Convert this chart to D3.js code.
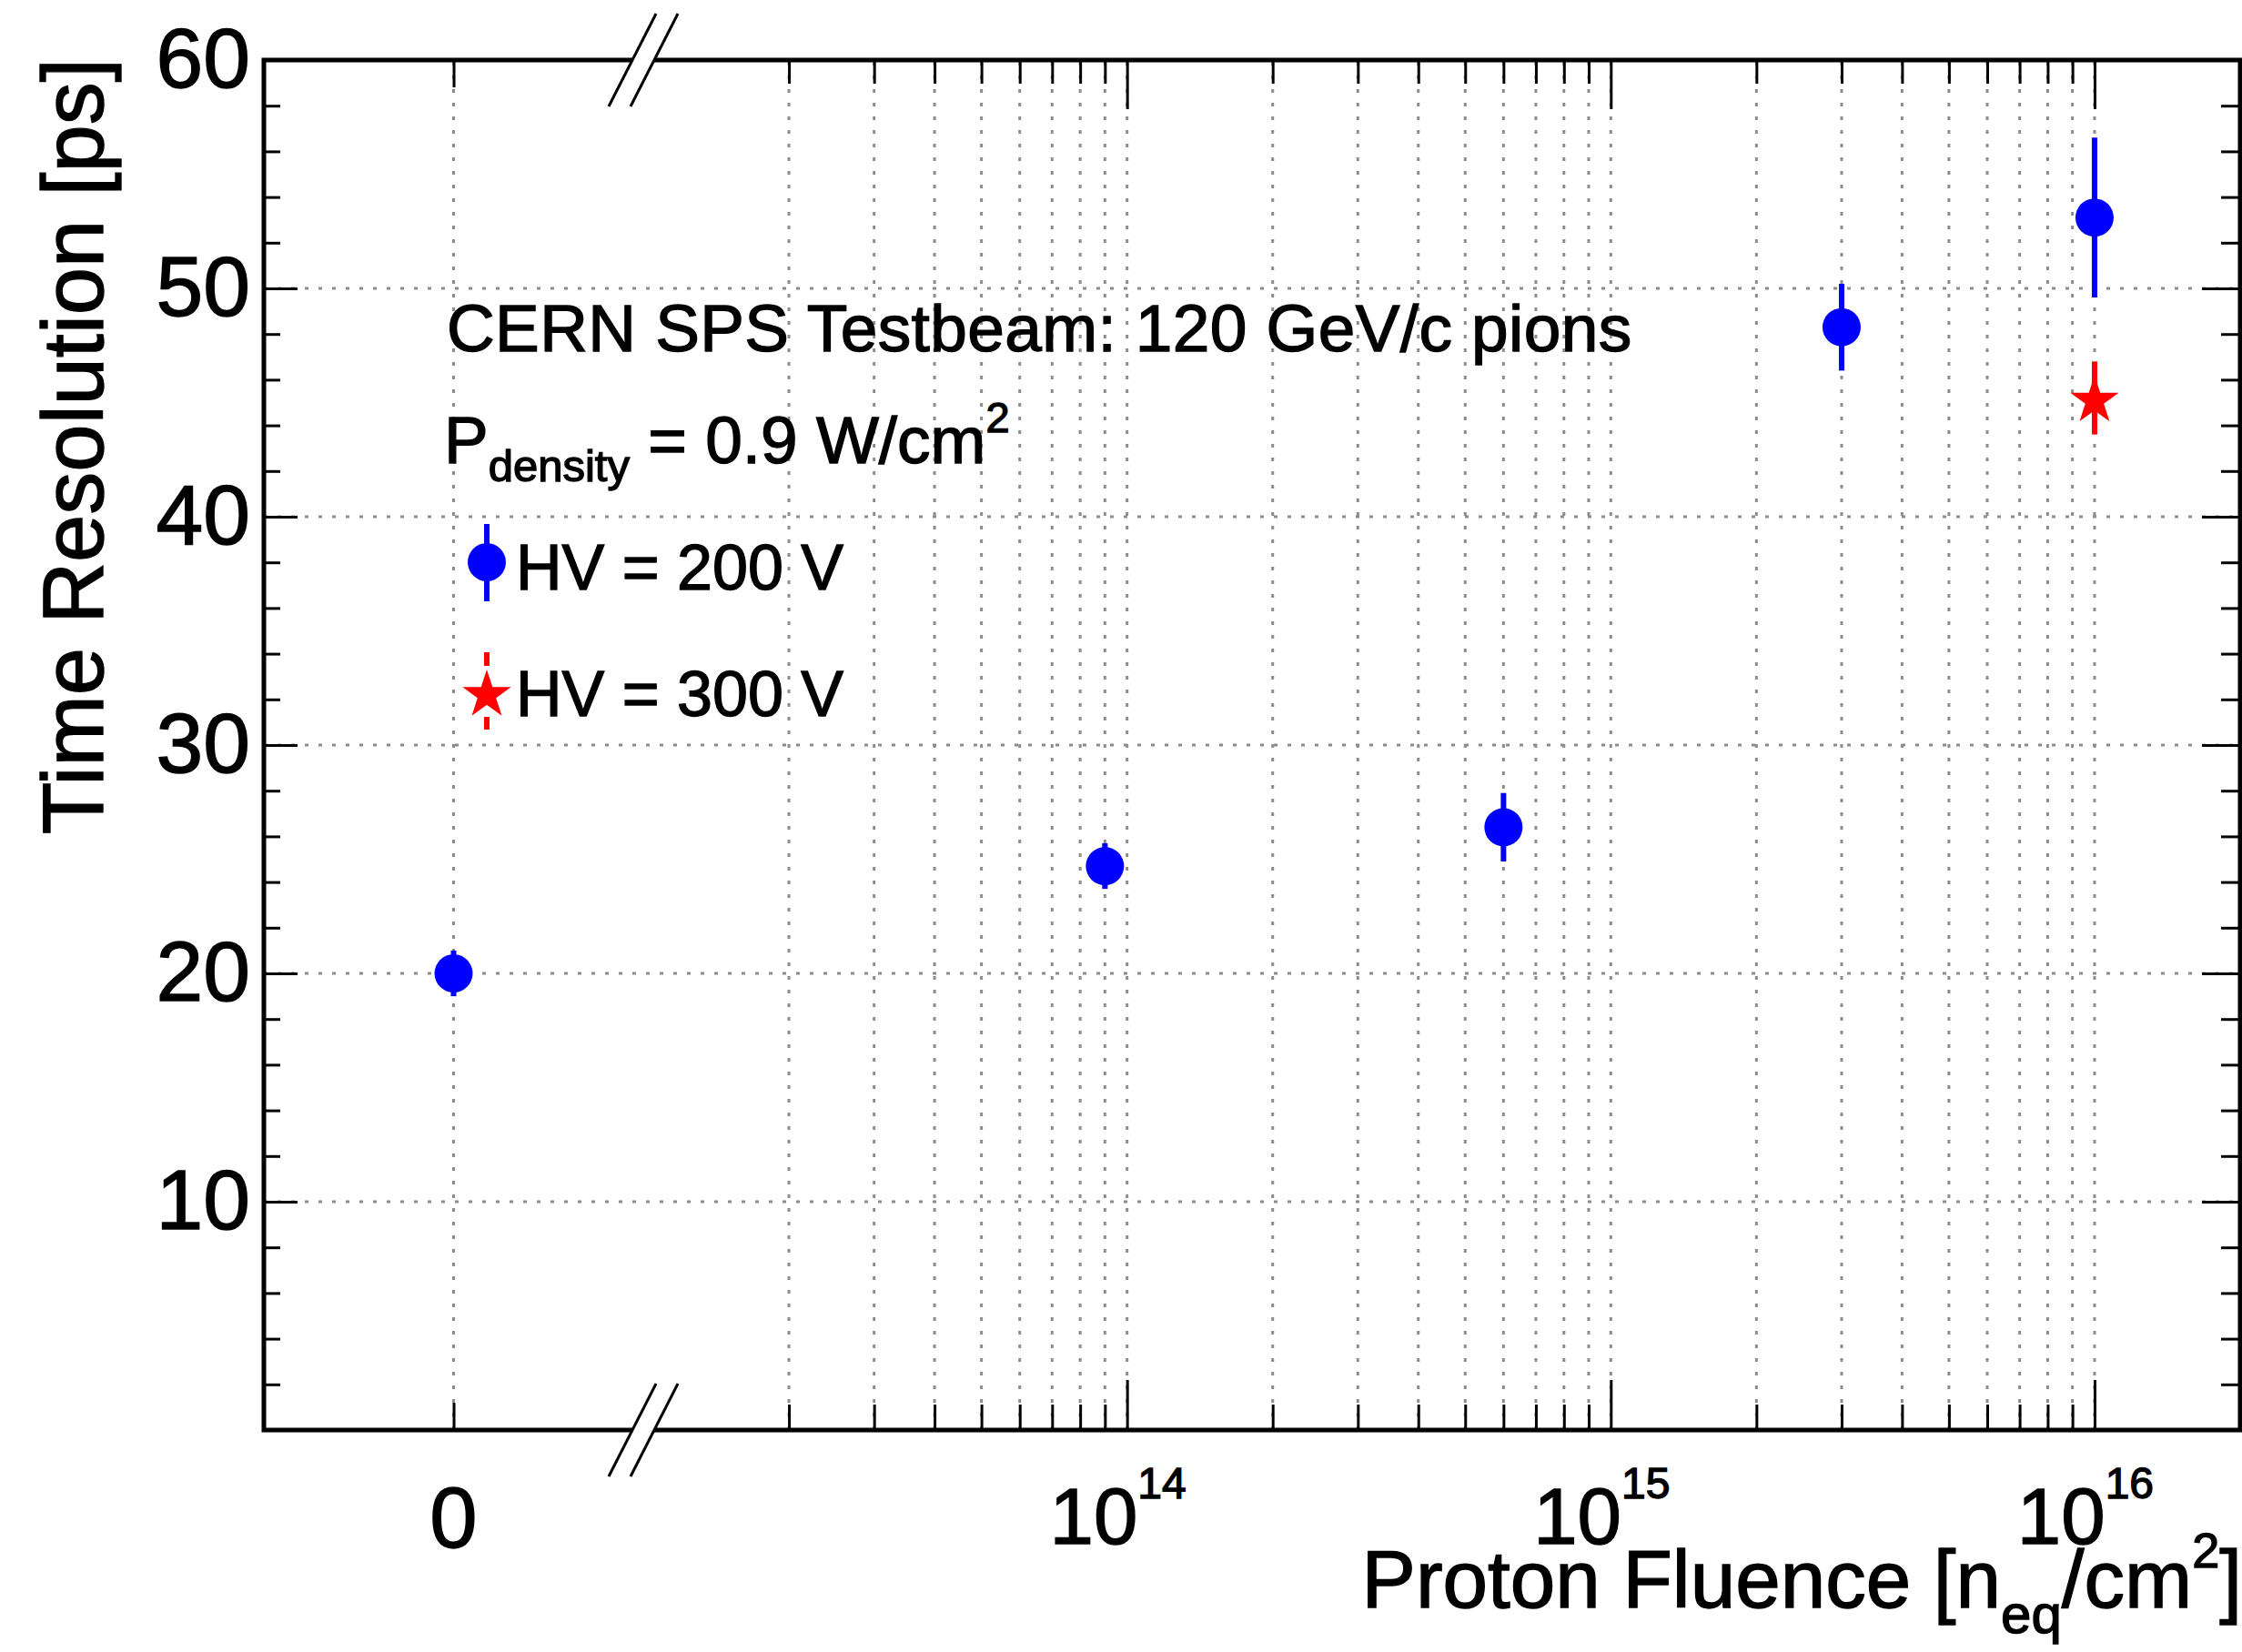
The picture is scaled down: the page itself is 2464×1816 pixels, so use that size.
<!DOCTYPE html>
<html>
<head>
<meta charset="utf-8">
<script src="https://cdn.jsdelivr.net/npm/d3@7/dist/d3.min.js"></script>
<style>
body { margin: 0; background: #fff; }
text { font-family: "Liberation Sans", Arial, Helvetica, sans-serif; fill: #000; stroke: #000; stroke-width: 1.4px; }
</style>
</head>
<body>
<script>
// values
let fluence200 = [0, 9e13, 6e14, 3e15, 1e16];
let res200 = [20.0, 24.7, 26.4, 48.3, 53.1];
let err200 = [1.0, 1.0, 1.5, 1.9, 3.5];
let fluence300 = [1e16];
let res300 = [45.2];
let err300 = [1.6];
let yTicks = [10, 20, 30, 40, 50, 60];
let xDecades = [1e14, 1e15, 1e16];
let xDecadeLabels = ["14", "15", "16"];

let width = 2464, height = 1816;
let frame = {left: 290, right: 2462, top: 66, bottom: 1572};
let breakX = 707;

// x axis: a small linear piece around 0, then a log piece after the break
let xZero = d3.scaleLinear().domain([-1, 1]).range([frame.left, breakX]);
let xLog = d3.scaleLog().domain([1e13, 2e16]).range([breakX, frame.right]);
function xScale(v) { return v <= 0 ? xZero(v) : xLog(v); }
let yScale = d3.scaleLinear().domain([0, 60]).range([frame.bottom, frame.top]);

let logTicks = xLog.ticks().filter(function(v) { return v > 1.5e13 && v <= 1.5e16; });
let logMajor = logTicks.filter(function(v) { return xDecades.indexOf(v) >= 0; });
let logMinor = logTicks.filter(function(v) { return xDecades.indexOf(v) < 0; });
let yMinor = d3.range(2, 60, 2).filter(function(v) { return v % 10 != 0; });

let svg = d3.select("body").append("svg")
	.attr("width", width)
	.attr("height", height);

// dotted grid
let grid = svg.append("g");
grid.selectAll(".gx")
		.data([0].concat(logTicks))
	.enter().append("line")
		.attr("x1", function(d) { return xScale(d); })
		.attr("x2", function(d) { return xScale(d); })
		.attr("y1", frame.bottom)
		.attr("y2", frame.top);
grid.selectAll(".gy")
		.data(yTicks.filter(function(v) { return v < 60; }))
	.enter().append("line")
		.attr("x1", frame.left)
		.attr("x2", frame.right)
		.attr("y1", function(d) { return yScale(d); })
		.attr("y2", function(d) { return yScale(d); });
grid.selectAll("line")
	.attr("stroke", "#8c8c8c")
	.attr("stroke-width", 3)
	.attr("stroke-dasharray", "4 11");

// tick marks, all pointing inwards
function ticks(g) {
	g.select(".domain").remove();
	g.selectAll("line").attr("stroke", "#000").attr("stroke-width", 3);
	g.selectAll("text").remove();
}
let atBottom = "translate(0," + frame.bottom + ")";
let atTop = "translate(0," + frame.top + ")";
svg.append("g").attr("transform", atBottom)
	.call(d3.axisBottom(xLog).tickValues(logMinor).tickSize(-28)).call(ticks);
svg.append("g").attr("transform", atBottom)
	.call(d3.axisBottom(xLog).tickValues(logMajor).tickSize(-55)).call(ticks);
svg.append("g").attr("transform", atBottom)
	.call(d3.axisBottom(xZero).tickValues([0]).tickSize(-30)).call(ticks);
svg.append("g").attr("transform", atTop)
	.call(d3.axisTop(xLog).tickValues(logMinor).tickSize(-26)).call(ticks);
svg.append("g").attr("transform", atTop)
	.call(d3.axisTop(xLog).tickValues(logMajor).tickSize(-54)).call(ticks);
svg.append("g").attr("transform", atTop)
	.call(d3.axisTop(xZero).tickValues([0]).tickSize(-30)).call(ticks);
svg.append("g").attr("transform", "translate(" + frame.left + ",0)")
	.call(d3.axisLeft(yScale).tickValues(yMinor).tickSize(-18)).call(ticks);
svg.append("g").attr("transform", "translate(" + frame.right + ",0)")
	.call(d3.axisRight(yScale).tickValues(yMinor).tickSize(-21)).call(ticks);
svg.append("g").attr("transform", "translate(" + frame.right + ",0)")
	.call(d3.axisRight(yScale).tickValues(yTicks).tickSize(-42)).call(ticks);

// left axis with its labels
let yAxis = svg.append("g")
	.attr("transform", "translate(" + frame.left + ",0)")
	.call(d3.axisLeft(yScale).tickValues(yTicks).tickSize(-37).tickPadding(15));
yAxis.select(".domain").remove();
yAxis.selectAll("line").attr("stroke", "#000").attr("stroke-width", 3);
yAxis.selectAll("text")
	.attr("font-size", 93)
	.attr("font-family", "Liberation Sans, Arial, sans-serif")
	.attr("fill", "#000");

// frame
svg.append("rect")
	.attr("x", frame.left)
	.attr("y", frame.top)
	.attr("width", frame.right - frame.left)
	.attr("height", frame.bottom - frame.top)
	.attr("fill", "none")
	.attr("stroke", "#000")
	.attr("stroke-width", 5);

// axis break marks
[frame.top, frame.bottom].forEach(function(yb) {
	let xa = breakX - 12, xb = breakX + 12;
	function pt(x0, d) { return [x0 - 0.51 * d, yb + d]; }
	svg.append("polygon")
		.attr("points", [pt(xa, 8), pt(xb, 8), pt(xb, -8), pt(xa, -8)].map(function(p) { return p.join(","); }).join(" "))
		.attr("fill", "#fff");
	[xa, xb].forEach(function(x0) {
		let p1 = pt(x0, 51), p2 = pt(x0, -51);
		svg.append("line")
			.attr("x1", p1[0]).attr("y1", p1[1])
			.attr("x2", p2[0]).attr("y2", p2[1])
			.attr("stroke", "#000")
			.attr("stroke-width", 3);
	});
});

// x tick labels
svg.append("text")
	.attr("x", xScale(0))
	.attr("y", 1701)
	.attr("text-anchor", "middle")
	.attr("font-size", 94)
	.text("0");
let decadeLabels = svg.selectAll(".decade")
		.data(xDecades)
	.enter().append("text")
		.attr("x", function(d) { return xLog(d) - 10; })
		.attr("y", 1697)
		.attr("text-anchor", "middle");
decadeLabels.append("tspan").attr("font-size", 87).text("10");
decadeLabels.append("tspan").attr("font-size", 48).attr("dy", -50)
	.text(function(d, i) { return xDecadeLabels[i]; });

// axis titles
let xTitle = svg.append("text")
	.attr("x", 2464)
	.attr("y", 1767)
	.attr("text-anchor", "end")
	.attr("font-size", 89);
xTitle.append("tspan").text("Proton Fluence [n");
xTitle.append("tspan").attr("font-size", 60).attr("dy", 28).text("eq");
xTitle.append("tspan").attr("dy", -28).text("/cm");
xTitle.append("tspan").attr("font-size", 54).attr("dy", -44).text("2");
xTitle.append("tspan").attr("dy", 44).text("]");

svg.append("text")
	.attr("transform", "translate(113,64) rotate(-90)")
	.attr("text-anchor", "end")
	.attr("font-size", 94)
	.text("Time Resolution [ps]");

// data points, HV = 200 V
let pts200 = fluence200.map(function(f, i) { return {x: f, y: res200[i], e: err200[i]}; });
let pts300 = fluence300.map(function(f, i) { return {x: f, y: res300[i], e: err300[i]}; });

svg.selectAll(".bar200")
		.data(pts200)
	.enter().append("line")
		.attr("x1", function(d) { return xScale(d.x); })
		.attr("x2", function(d) { return xScale(d.x); })
		.attr("y1", function(d) { return yScale(d.y - d.e); })
		.attr("y2", function(d) { return yScale(d.y + d.e); })
		.attr("stroke", "#0000ff")
		.attr("stroke-width", 6);
svg.selectAll(".dot200")
		.data(pts200)
	.enter().append("circle")
		.attr("cx", function(d) { return xScale(d.x); })
		.attr("cy", function(d) { return yScale(d.y); })
		.attr("r", 21)
		.attr("fill", "#0000ff");

// HV = 300 V
let star = d3.symbol().type(d3.symbolStar).size(28 * 28 / 0.8908130915);
svg.selectAll(".bar300")
		.data(pts300)
	.enter().append("line")
		.attr("x1", function(d) { return xScale(d.x); })
		.attr("x2", function(d) { return xScale(d.x); })
		.attr("y1", function(d) { return yScale(d.y - d.e); })
		.attr("y2", function(d) { return yScale(d.y + d.e); })
		.attr("stroke", "#ff0000")
		.attr("stroke-width", 6);
svg.selectAll(".star300")
		.data(pts300)
	.enter().append("path")
		.attr("d", star)
		.attr("transform", function(d) { return "translate(" + xScale(d.x) + "," + (yScale(d.y) + 3) + ")"; })
		.attr("fill", "#ff0000");

// text block and legend
svg.append("text")
	.attr("x", 491)
	.attr("y", 386)
	.attr("font-size", 73)
	.attr("letter-spacing", 0.4)
	.text("CERN SPS Testbeam: 120 GeV/c pions");

let pText = svg.append("text")
	.attr("x", 488)
	.attr("y", 509)
	.attr("font-size", 73);
pText.append("tspan").text("P");
pText.append("tspan").attr("font-size", 49).attr("dy", 20).text("density");
pText.append("tspan").attr("dy", -20).text(" = 0.9 W/cm");
pText.append("tspan").attr("font-size", 47).attr("dy", -34).text("2");

svg.append("line")
	.attr("x1", 535).attr("x2", 535).attr("y1", 576).attr("y2", 661)
	.attr("stroke", "#0000ff").attr("stroke-width", 6);
svg.append("circle")
	.attr("cx", 535).attr("cy", 618).attr("r", 21)
	.attr("fill", "#0000ff");
svg.append("text")
	.attr("x", 567).attr("y", 648)
	.attr("font-size", 70)
	.text("HV = 200 V");

[[717, 732], [788, 802]].forEach(function(s) {
	svg.append("line")
		.attr("x1", 535).attr("x2", 535).attr("y1", s[0]).attr("y2", s[1])
		.attr("stroke", "#ff0000").attr("stroke-width", 6);
});
svg.append("path")
	.attr("d", star)
	.attr("transform", "translate(535,764)")
	.attr("fill", "#ff0000");
svg.append("text")
	.attr("x", 567).attr("y", 787)
	.attr("font-size", 70)
	.text("HV = 300 V");
</script>
</body>
</html>
